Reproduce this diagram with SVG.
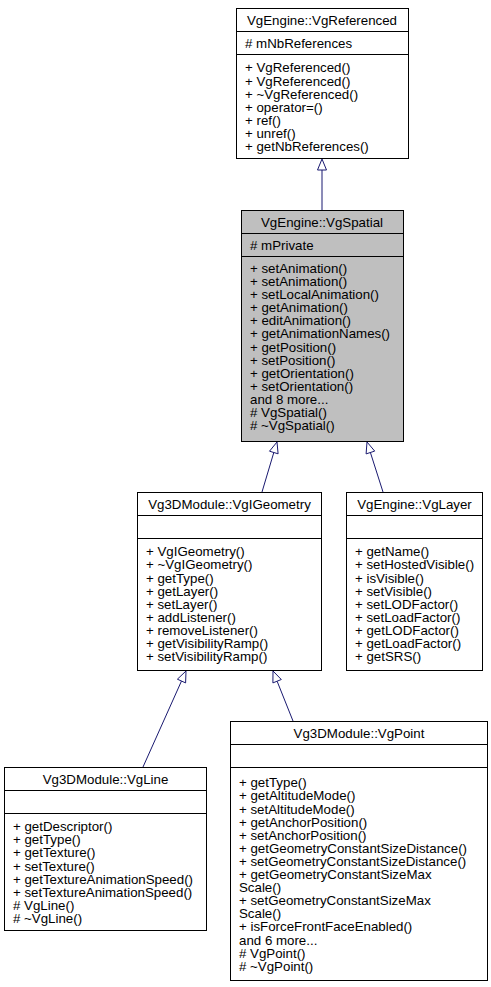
<svg xmlns="http://www.w3.org/2000/svg" width="491" height="987" viewBox="0 0 491 987">
<style>
text{font-family:"Liberation Sans",Arial,Helvetica,sans-serif;font-size:13.3px;fill:#000}
.t{text-anchor:middle}
.box{fill:#fff;stroke:#000;stroke-width:1}
.cur{fill:#bfbfbf;stroke:#000;stroke-width:1}
.sep{stroke:#000;stroke-width:1}
.edge{stroke:#191970;stroke-width:1;fill:none}
.head{fill:#fff;stroke:#191970;stroke-width:1}
</style>
<rect width="491" height="987" fill="#fff"/>
<g id="connectors">
<line class="edge" x1="322" y1="210" x2="322" y2="170"/>
<polygon class="head" points="322,159 317.5,170 326.5,170"/>
<line class="edge" x1="262" y1="492" x2="273.8" y2="452.5"/>
<polygon class="head" points="277,442 278.1,453.8 269.5,451.2"/>
<line class="edge" x1="383" y1="492" x2="370.4" y2="452.5"/>
<polygon class="head" points="367,442 374.7,451.1 366.1,453.9"/>
<line class="edge" x1="143" y1="767" x2="181.5" y2="681"/>
<polygon class="head" points="186,671 185.6,682.9 177.4,679.2"/>
<line class="edge" x1="293" y1="721" x2="277.1" y2="681.2"/>
<polygon class="head" points="273,671 281.3,679.5 272.9,682.9"/>
</g>
<g id="VgReferenced">
<rect class="box" x="236.5" y="8.5" width="172" height="150"/>
<line class="sep" x1="236.5" y1="31.5" x2="408.5" y2="31.5"/>
<line class="sep" x1="236.5" y1="54.5" x2="408.5" y2="54.5"/>
<text class="t" x="322" y="24.5">VgEngine::VgReferenced</text>
<text x="245" y="47.5"># mNbReferences</text>
<text x="245" y="72.4">+ VgReferenced()<tspan x="245" dy="13.1">+ VgReferenced()</tspan><tspan x="245" dy="13.1">+ ~VgReferenced()</tspan><tspan x="245" dy="13.1">+ operator=()</tspan><tspan x="245" dy="13.1">+ ref()</tspan><tspan x="245" dy="13.1">+ unref()</tspan><tspan x="245" dy="13.1">+ getNbReferences()</tspan></text>
</g>
<g id="VgSpatial">
<rect class="cur" x="241.5" y="210.5" width="162" height="231"/>
<line class="sep" x1="241.5" y1="233.5" x2="403.5" y2="233.5"/>
<line class="sep" x1="241.5" y1="256.5" x2="403.5" y2="256.5"/>
<text class="t" x="322" y="226.5">VgEngine::VgSpatial</text>
<text x="250" y="249.5"># mPrivate</text>
<text x="250" y="272.9">+ setAnimation()<tspan x="250" dy="13.1">+ setAnimation()</tspan><tspan x="250" dy="13.1">+ setLocalAnimation()</tspan><tspan x="250" dy="13.1">+ getAnimation()</tspan><tspan x="250" dy="13.1">+ editAnimation()</tspan><tspan x="250" dy="13.1">+ getAnimationNames()</tspan><tspan x="250" dy="13.1">+ getPosition()</tspan><tspan x="250" dy="13.1">+ setPosition()</tspan><tspan x="250" dy="13.1">+ getOrientation()</tspan><tspan x="250" dy="13.1">+ setOrientation()</tspan><tspan x="250" dy="13.1">and 8 more...</tspan><tspan x="250" dy="13.1"># VgSpatial()</tspan><tspan x="250" dy="13.1"># ~VgSpatial()</tspan></text>
</g>
<g id="VgIGeometry">
<rect class="box" x="137.5" y="492.5" width="184" height="178"/>
<line class="sep" x1="137.5" y1="515.5" x2="321.5" y2="515.5"/>
<line class="sep" x1="137.5" y1="538.5" x2="321.5" y2="538.5"/>
<text class="t" x="229.5" y="508.5">Vg3DModule::VgIGeometry</text>
<text x="146" y="556.3">+ VgIGeometry()<tspan x="146" dy="13.1">+ ~VgIGeometry()</tspan><tspan x="146" dy="13.1">+ getType()</tspan><tspan x="146" dy="13.1">+ getLayer()</tspan><tspan x="146" dy="13.1">+ setLayer()</tspan><tspan x="146" dy="13.1">+ addListener()</tspan><tspan x="146" dy="13.1">+ removeListener()</tspan><tspan x="146" dy="13.1">+ getVisibilityRamp()</tspan><tspan x="146" dy="13.1">+ setVisibilityRamp()</tspan></text>
</g>
<g id="VgLayer">
<rect class="box" x="346.5" y="492.5" width="136" height="178"/>
<line class="sep" x1="346.5" y1="515.5" x2="482.5" y2="515.5"/>
<line class="sep" x1="346.5" y1="538.5" x2="482.5" y2="538.5"/>
<text class="t" x="414.5" y="508.5">VgEngine::VgLayer</text>
<text x="355" y="556.3">+ getName()<tspan x="355" dy="13.1">+ setHostedVisible()</tspan><tspan x="355" dy="13.1">+ isVisible()</tspan><tspan x="355" dy="13.1">+ setVisible()</tspan><tspan x="355" dy="13.1">+ setLODFactor()</tspan><tspan x="355" dy="13.1">+ setLoadFactor()</tspan><tspan x="355" dy="13.1">+ getLODFactor()</tspan><tspan x="355" dy="13.1">+ getLoadFactor()</tspan><tspan x="355" dy="13.1">+ getSRS()</tspan></text>
</g>
<g id="VgLine">
<rect class="box" x="4.5" y="767.5" width="202" height="163"/>
<line class="sep" x1="4.5" y1="790.5" x2="206.5" y2="790.5"/>
<line class="sep" x1="4.5" y1="813.5" x2="206.5" y2="813.5"/>
<text class="t" x="105.5" y="783.5">Vg3DModule::VgLine</text>
<text x="13" y="831.2">+ getDescriptor()<tspan x="13" dy="13.1">+ getType()</tspan><tspan x="13" dy="13.1">+ getTexture()</tspan><tspan x="13" dy="13.1">+ setTexture()</tspan><tspan x="13" dy="13.1">+ getTextureAnimationSpeed()</tspan><tspan x="13" dy="13.1">+ setTextureAnimationSpeed()</tspan><tspan x="13" dy="13.1"># VgLine()</tspan><tspan x="13" dy="13.1"># ~VgLine()</tspan></text>
</g>
<g id="VgPoint">
<rect class="box" x="230.5" y="721.5" width="257" height="259"/>
<line class="sep" x1="230.5" y1="744.5" x2="487.5" y2="744.5"/>
<line class="sep" x1="230.5" y1="767.5" x2="487.5" y2="767.5"/>
<text class="t" x="359" y="737.5">Vg3DModule::VgPoint</text>
<text x="239" y="787.3">+ getType()<tspan x="239" dy="13.1">+ getAltitudeMode()</tspan><tspan x="239" dy="13.1">+ setAltitudeMode()</tspan><tspan x="239" dy="13.1">+ getAnchorPosition()</tspan><tspan x="239" dy="13.1">+ setAnchorPosition()</tspan><tspan x="239" dy="13.1">+ getGeometryConstantSizeDistance()</tspan><tspan x="239" dy="13.1">+ setGeometryConstantSizeDistance()</tspan><tspan x="239" dy="13.1">+ getGeometryConstantSizeMax</tspan><tspan x="239" dy="13.1">Scale()</tspan><tspan x="239" dy="13.1">+ setGeometryConstantSizeMax</tspan><tspan x="239" dy="13.1">Scale()</tspan><tspan x="239" dy="13.1">+ isForceFrontFaceEnabled()</tspan><tspan x="239" dy="13.1">and 6 more...</tspan><tspan x="239" dy="13.1"># VgPoint()</tspan><tspan x="239" dy="13.1"># ~VgPoint()</tspan></text>
</g>
</svg>
